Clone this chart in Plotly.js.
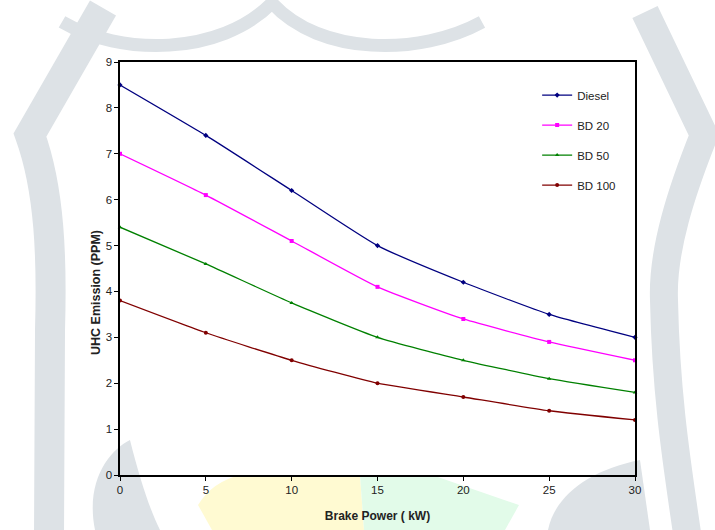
<!DOCTYPE html>
<html>
<head>
<meta charset="utf-8">
<script src="https://cdn.plot.ly/plotly-3.0.1.min.js"></script>
<style>
  html, body { margin: 0; padding: 0; background: #ffffff; }
  #chart { width: 715px; height: 530px; }
</style>
</head>
<body>
<div id="chart"></div>
<script>
// Brake power (kW) on the x axis
const brakePower = [0, 5, 10, 15, 20, 25, 30];

// Unburnt hydrocarbon emission (PPM) for each fuel blend
const diesel = [8.5, 7.4, 6.2, 5.0, 4.2, 3.5, 3.0];
const bd20   = [7.0, 6.1, 5.1, 4.1, 3.4, 2.9, 2.5];
const bd50   = [5.4, 4.6, 3.75, 3.0, 2.5, 2.1, 1.8];
const bd100  = [3.8, 3.1, 2.5, 2.0, 1.7, 1.4, 1.2];

const seriesNames = ['Diesel', 'BD 20', 'BD 50', 'BD 100'];
const xTicks = [0, 5, 10, 15, 20, 25, 30];
const yTicks = [0, 1, 2, 3, 4, 5, 6, 7, 8, 9];
const xTitle = 'Brake Power ( kW)';
const yTitle = 'UHC Emission (PPM)';

const colors  = ['#000080', '#ff00ff', '#008000', '#800000'];
const symbols = ['diamond', 'square', 'triangle-up', 'circle'];
const allY = [diesel, bd20, bd50, bd100];

const traces = allY.map((ys, i) => ({
  x: brakePower,
  y: ys,
  name: seriesNames[i],
  type: 'scatter',
  mode: 'lines+markers',
  legendgroup: 'g' + i,
  line: { color: colors[i], width: 1.3, shape: 'spline', smoothing: 0.5 },
  marker: { color: colors[i], symbol: symbols[i], size: 4 },
  cliponaxis: false
}));

const family = 'Liberation Sans, Arial, sans-serif';
const font = { family: family, size: 11.5, color: '#222222' };
const legendFont = { family: family, size: 11.5, color: '#222222' };

// Page margins, used to place the decorative backdrop in pixel terms
const M = { l: 120, r: 80, t: 62, b: 55 };
const W = 715, H = 530;
const pw = W - M.l - M.r, ph = H - M.t - M.b;
const fx = v => ((v - M.l) / pw);
const fy = v => ((H - M.b - v) / ph);
// turn a list of [command, x, y, x, y ...] pieces into a paper-referenced path
function pathOf(parts) {
  return parts.map(p => {
    const cmd = p[0];
    const nums = p.slice(1);
    const out = [];
    for (let k = 0; k < nums.length; k += 2) out.push(fx(nums[k]).toFixed(4) + ',' + fy(nums[k + 1]).toFixed(4));
    return cmd + ' ' + out.join(' ');
  }).join(' ');
}

const grey = '#dde2e6';
const band = (parts, w) => ({
  type: 'path', xref: 'paper', yref: 'paper', layer: 'below',
  line: { color: grey, width: w }, path: pathOf(parts)
});
const blob = (parts, fill) => ({
  type: 'path', xref: 'paper', yref: 'paper', layer: 'below',
  fillcolor: fill, line: { width: 0 }, path: pathOf(parts) + ' Z'
});

const shapes = [
  // top double arch
  band([['M', 62, 22], ['C', 120, 56, 220, 56, 272, 3], ['C', 320, 56, 420, 56, 482, 22]], 13),
  // left bracket
  band([['M', 103, 8], ['L', 30, 135], ['C', 50, 190, 52, 260, 50, 330], ['L', 49, 540]], 30),
  // right bracket
  band([['M', 645, 12], ['L', 704, 135], ['C', 682, 190, 662, 250, 664, 300], ['C', 666, 400, 678, 470, 688, 540]], 28),
  // lower leaves
  blob([['M', 95, 530], ['C', 85, 480, 110, 450, 130, 440], ['C', 140, 480, 150, 510, 160, 530]], grey),
  blob([['M', 548, 530], ['C', 555, 495, 590, 470, 640, 460], ['L', 650, 530]], grey),
  // coloured fan at the foot
  blob([['M', 198, 505], ['Q', 212, 482, 240, 475], ['L', 360, 475], ['L', 364, 530], ['L', 212, 530]], '#fffad2'),
  blob([['M', 360, 475], ['L', 432, 475], ['L', 519, 505], ['L', 505, 530], ['L', 364, 530]], '#e2fbe9')
];

const layout = {
  width: W,
  height: H,
  margin: M,
  paper_bgcolor: '#ffffff',
  plot_bgcolor: '#ffffff',
  font: font,
  showlegend: true,
  legend: {
    x: 0.81, y: 0.955, xanchor: 'left', yanchor: 'top',
    bgcolor: 'rgba(0,0,0,0)', borderwidth: 0,
    font: legendFont, traceorder: 'grouped', tracegroupgap: 11,
    itemwidth: 30
  },
  xaxis: {
    range: [0, 30],
    tickvals: xTicks,
    ticktext: xTicks.map(String),
    showgrid: false, zeroline: false,
    showline: true, linecolor: '#000000', linewidth: 1.6, mirror: true,
    ticks: 'outside', ticklen: 4, tickcolor: '#000000', tickwidth: 1,
    tickfont: font,
    title: { text: '<b>' + xTitle + '</b>', font: { family: family, size: 12, color: '#222222' }, standoff: 16 }
  },
  yaxis: {
    range: [0, 9],
    tickvals: yTicks,
    ticktext: yTicks.map(String),
    showgrid: false, zeroline: false,
    showline: true, linecolor: '#000000', linewidth: 1.6, mirror: true,
    ticks: 'outside', ticklen: 4, tickcolor: '#000000', tickwidth: 1,
    tickfont: font
  },
  // vertical axis caption, set a little below the middle of the axis
  annotations: [{
    text: '<b>' + yTitle + '</b>',
    xref: 'paper', yref: 'paper',
    x: fx(96), y: fy(293),
    xanchor: 'center', yanchor: 'middle',
    textangle: -90, showarrow: false,
    font: { family: family, size: 12.5, color: '#222222' }
  }],
  shapes: shapes
};

Plotly.newPlot('chart', traces, layout, { displayModeBar: false, staticPlot: true });
</script>
</body>
</html>
